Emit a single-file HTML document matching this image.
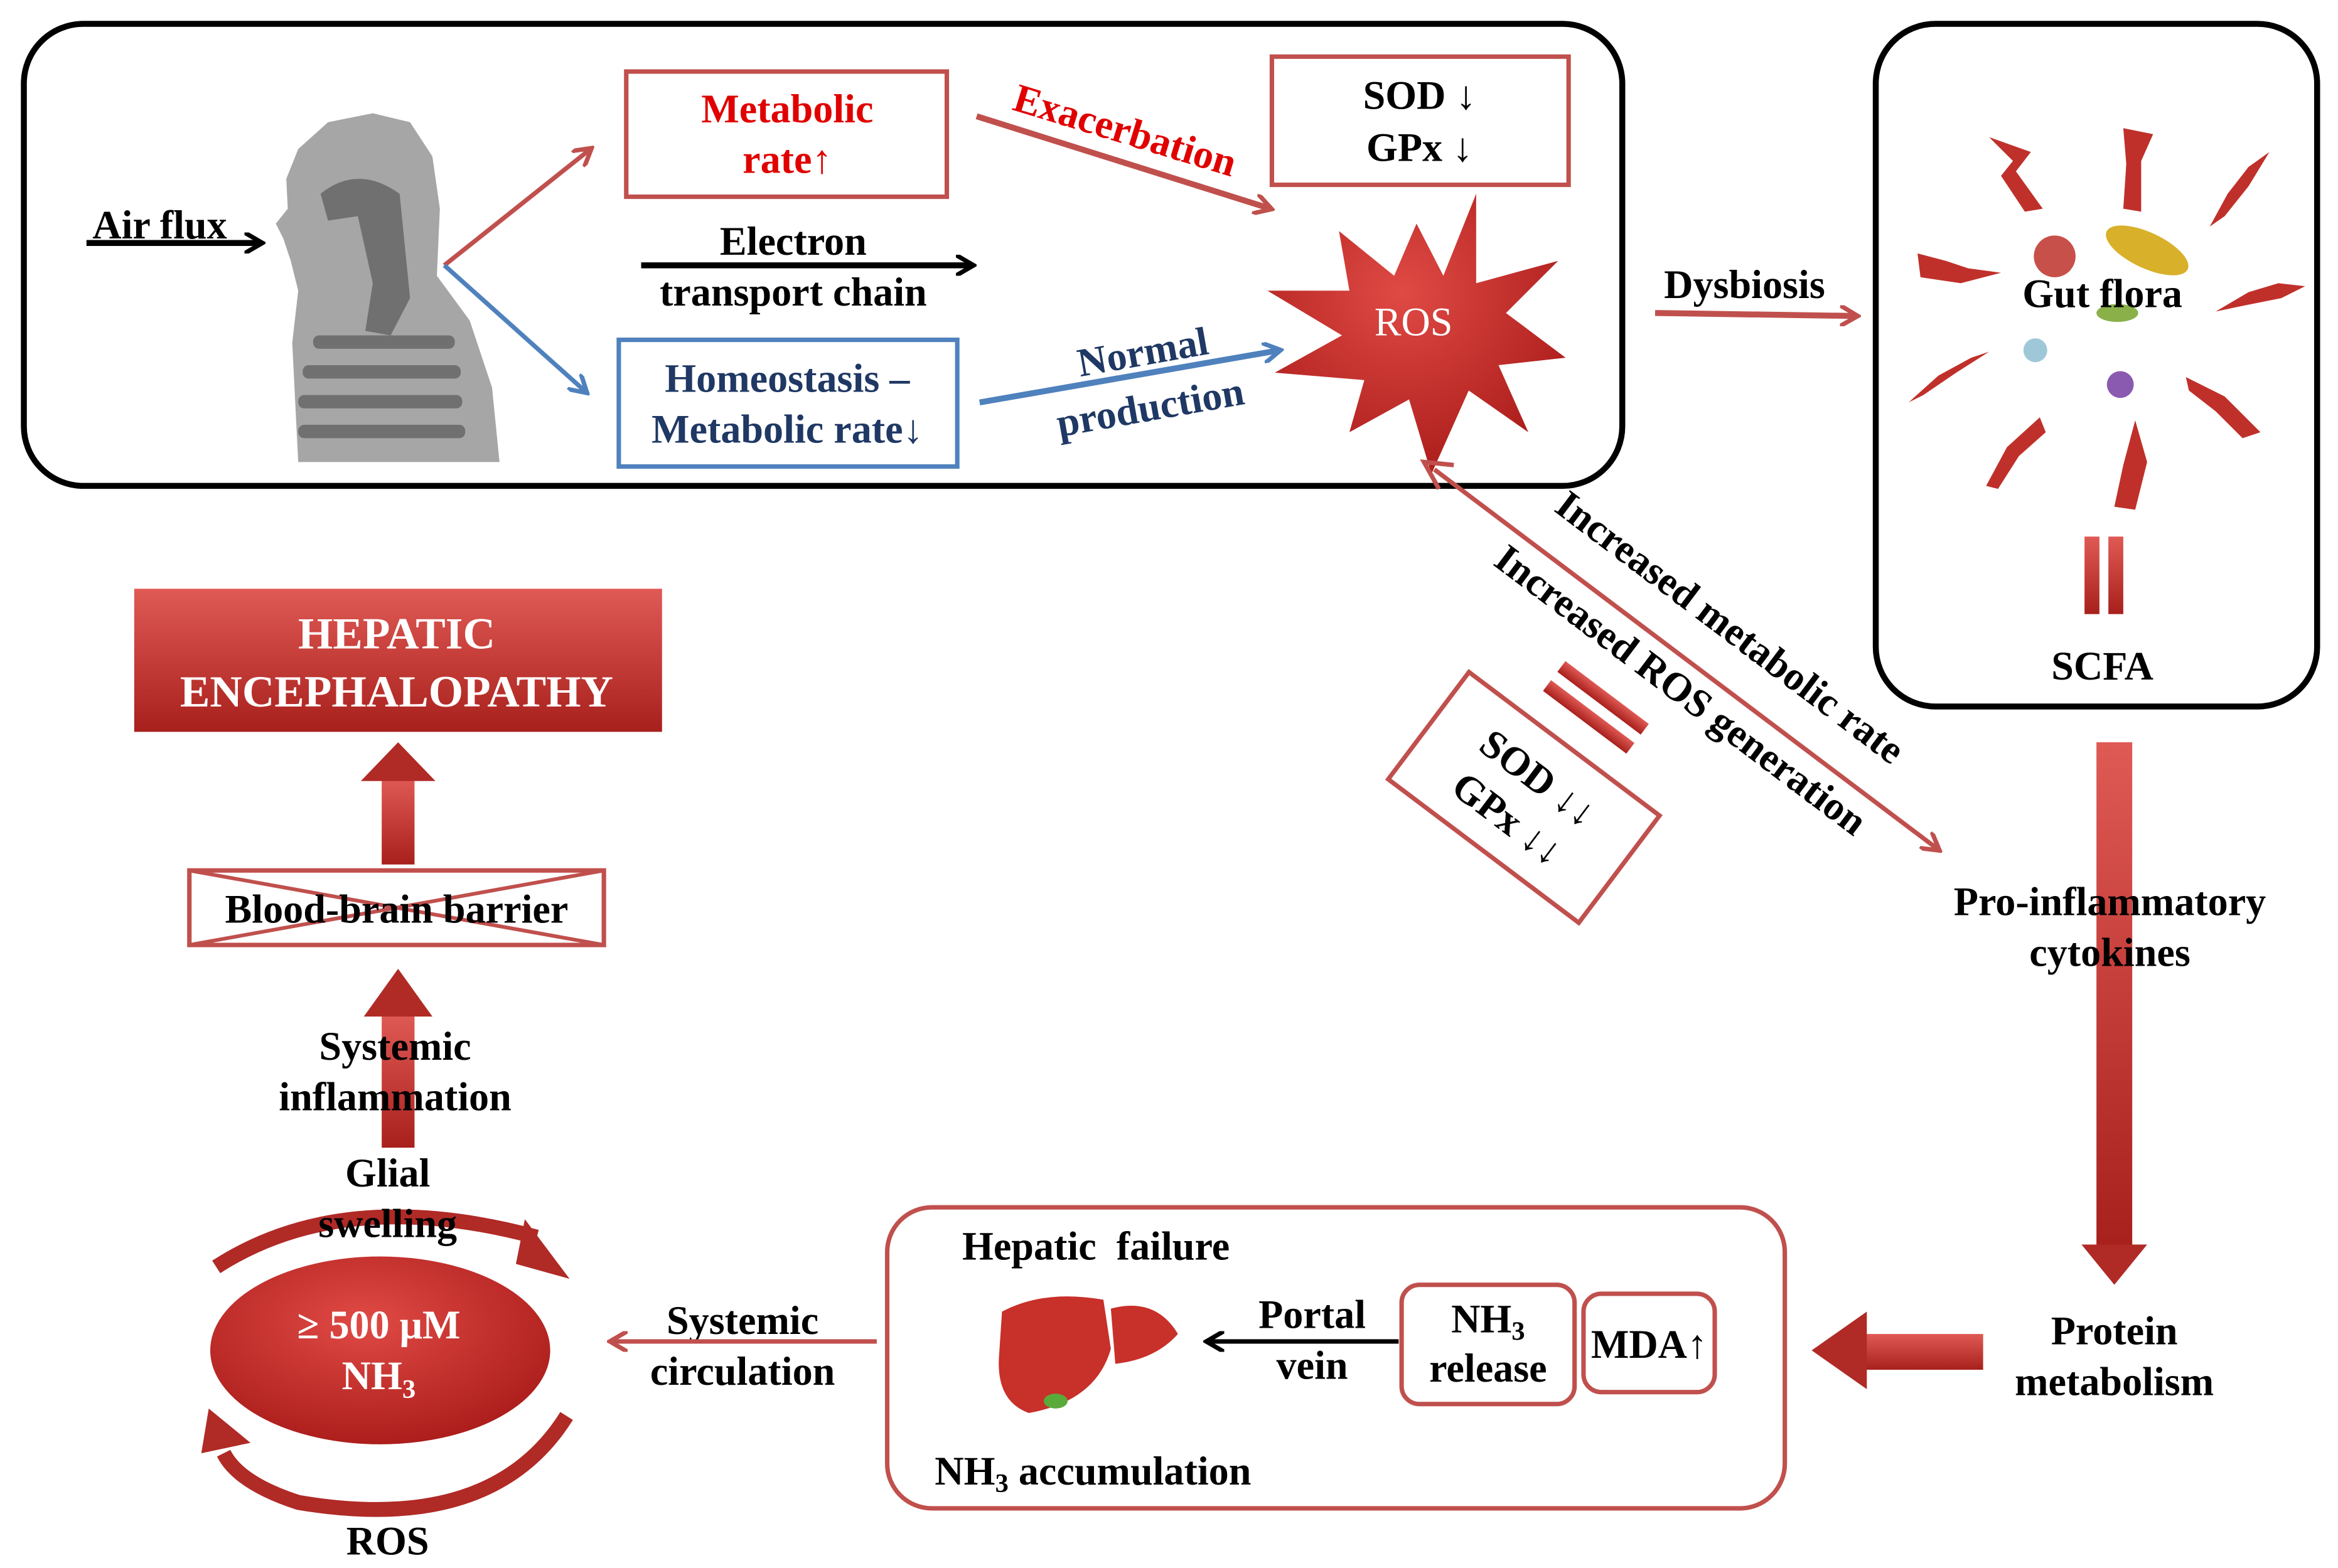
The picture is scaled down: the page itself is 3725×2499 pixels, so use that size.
<!DOCTYPE html>
<html><head><meta charset="utf-8"><style>
html,body{margin:0;padding:0;background:#fff;}
svg{display:block;}
text{font-family:"Liberation Serif",serif;font-weight:bold;}
</style></head><body>
<svg width="3725" height="2499" viewBox="0 0 1568 1052" preserveAspectRatio="none" xmlns="http://www.w3.org/2000/svg">
<defs>
<marker id="ak" markerWidth="14" markerHeight="14" refX="11" refY="7" orient="auto" markerUnits="userSpaceOnUse"><path d="M0,0 L12,7 L0,14" fill="none" stroke="#000" stroke-width="3"/></marker>
<marker id="ab" markerWidth="14" markerHeight="14" refX="11" refY="7" orient="auto" markerUnits="userSpaceOnUse"><path d="M0,0 L12,7 L0,14" fill="none" stroke="#4f81bd" stroke-width="3"/></marker>
<marker id="ar2" markerWidth="14" markerHeight="14" refX="11" refY="7" orient="auto" markerUnits="userSpaceOnUse"><path d="M0,0 L12,7 L0,14" fill="none" stroke="#c0504d" stroke-width="3"/></marker>
<linearGradient id="rg" x1="0" y1="0" x2="0" y2="1"><stop offset="0" stop-color="#e05a55"/><stop offset="1" stop-color="#a8201c"/></linearGradient>
<radialGradient id="eg" cx="0.45" cy="0.35" r="0.7"><stop offset="0" stop-color="#e04a45"/><stop offset="1" stop-color="#a81a18"/></radialGradient>
</defs>

<rect x="16" y="16" width="1072" height="310" rx="40" fill="none" stroke="#000" stroke-width="4"/>
<rect x="1258" y="16" width="296" height="458" rx="40" fill="none" stroke="#000" stroke-width="4"/>

<!-- human silhouette -->
<path d="M200,310 L196,230 L200,195 L195,175 L190,160 L185,150 L193,140 L192,120 L200,100 L220,82 L250,76 L275,82 L290,105 L295,140 L293,185 L315,215 L330,260 L335,310 Z" fill="#a6a6a6"/>
<path d="M215,130 Q240,110 268,130 L275,200 L262,225 L245,222 L250,190 L240,145 L220,148 Z" fill="#707070"/>
<g fill="#707070">
<rect x="210" y="225" width="95" height="9" rx="4"/>
<rect x="203" y="245" width="106" height="9" rx="4"/>
<rect x="200" y="265" width="110" height="9" rx="4"/>
<rect x="200" y="285" width="112" height="9" rx="4"/>
</g>

<text x="62" y="160" font-size="27">Air flux</text>
<line x1="58" y1="163" x2="175" y2="163" stroke="#000" stroke-width="4" marker-end="url(#ak)"/>

<line x1="298" y1="178" x2="396" y2="100" stroke="#c0504d" stroke-width="3" marker-end="url(#ar2)"/>
<line x1="298" y1="178" x2="393" y2="263" stroke="#4f81bd" stroke-width="3" marker-end="url(#ab)"/>

<rect x="420" y="48" width="215" height="84" fill="#fff" stroke="#c0504d" stroke-width="3"/>
<text x="528" y="82" font-size="27" fill="#e00000" text-anchor="middle">Metabolic</text>
<text x="528" y="116" font-size="27" fill="#e00000" text-anchor="middle">rate↑</text>

<text x="532" y="171" font-size="27" text-anchor="middle">Electron</text>
<line x1="430" y1="178" x2="652" y2="178" stroke="#000" stroke-width="4" marker-end="url(#ak)"/>
<text x="532" y="205" font-size="27" text-anchor="middle">transport chain</text>

<rect x="415" y="228" width="227" height="85" fill="#fff" stroke="#4f81bd" stroke-width="3"/>
<text x="528" y="263" font-size="27" fill="#1f3864" text-anchor="middle">Homeostasis –</text>
<text x="528" y="297" font-size="27" fill="#1f3864" text-anchor="middle">Metabolic rate↓</text>

<line x1="655" y1="78" x2="852" y2="140" stroke="#c0504d" stroke-width="4" marker-end="url(#ar2)"/>
<text x="752" y="96" font-size="27" fill="#e00000" text-anchor="middle" transform="rotate(17 752 96)">Exacerbation</text>

<line x1="657" y1="270" x2="858" y2="235" stroke="#4f81bd" stroke-width="4" marker-end="url(#ab)"/>
<text x="768" y="245" font-size="27" fill="#1f3864" text-anchor="middle" transform="rotate(-10 768 245)">Normal</text>
<text x="773" y="282" font-size="27" fill="#1f3864" text-anchor="middle" transform="rotate(-10 773 282)">production</text>

<rect x="853" y="38" width="199" height="86" fill="#fff" stroke="#c0504d" stroke-width="3"/>
<text x="952" y="73" font-size="27" text-anchor="middle">SOD ↓</text>
<text x="952" y="108" font-size="27" text-anchor="middle">GPx ↓</text>

<polygon points="950,150 968,185 990,130 990,190 1045,175 1010,210 1050,240 1005,245 1025,290 985,262 960,318 945,268 905,290 915,255 855,250 900,225 850,195 905,195 898,155 935,185" fill="url(#eg)"/>
<text x="948" y="225" font-size="27" fill="#fff" text-anchor="middle" style="font-weight:normal">ROS</text>

<text x="1170" y="200" font-size="27" text-anchor="middle">Dysbiosis</text>
<line x1="1110" y1="210" x2="1245" y2="212" stroke="#c0504d" stroke-width="4" marker-end="url(#ar2)"/>

<!-- gut flora bolts -->
<g fill="#c0302a">
<polygon points="1334,92 1362,102 1352,115 1370,140 1358,142 1342,118 1350,108"/>
<polygon points="1424,86 1444,90 1436,108 1436,142 1424,140 1426,110"/>
<polygon points="1522,102 1508,125 1492,145 1482,152 1494,130 1508,112"/>
<polygon points="1286,170 1305,175 1320,180 1342,183 1315,190 1288,186"/>
<polygon points="1546,192 1530,200 1505,205 1486,209 1508,196 1528,190"/>
<polygon points="1334,236 1312,250 1290,265 1280,270 1300,252 1322,240"/>
<polygon points="1466,253 1492,266 1516,290 1504,294 1486,276 1468,262"/>
<polygon points="1368,280 1346,300 1332,326 1340,328 1354,306 1372,290"/>
<polygon points="1432,282 1440,310 1432,342 1418,340 1424,312"/>
</g>
<circle cx="1378" cy="172" r="14" fill="#c8504a"/>
<ellipse cx="1440" cy="168" rx="30" ry="12" fill="#d8b02a" transform="rotate(25 1440 168)"/>
<ellipse cx="1420" cy="210" rx="14" ry="6" fill="#8ab04a"/>
<circle cx="1365" cy="235" r="8" fill="#9ec8d8"/>
<circle cx="1422" cy="258" r="9" fill="#8a5ab0"/>
<text x="1410" y="206" font-size="27" text-anchor="middle">Gut flora</text>
<rect x="1398" y="360" width="10" height="52" fill="url(#rg)"/>
<rect x="1414" y="360" width="10" height="52" fill="url(#rg)"/>
<text x="1410" y="456" font-size="27" text-anchor="middle">SCFA</text>

<line x1="962" y1="315" x2="1300" y2="570" stroke="#c0504d" stroke-width="3" marker-end="url(#ar2)"/>
<polyline points="965,328 955,310 975,312" fill="none" stroke="#c0504d" stroke-width="3"/>
<text x="1155" y="428" font-size="27" text-anchor="middle" transform="rotate(37 1155 428)">Increased metabolic rate</text>
<text x="1122" y="470" font-size="27" text-anchor="middle" transform="rotate(37 1122 470)">Increased ROS generation</text>
<g transform="rotate(37 1070 475)">
<rect x="1035" y="462" width="70" height="9" fill="url(#rg)"/>
<rect x="1035" y="478" width="70" height="9" fill="url(#rg)"/>
</g>
<g transform="rotate(37 1022 535)">
<rect x="942" y="490" width="160" height="90" fill="#fff" stroke="#c0504d" stroke-width="3"/>
<text x="1022" y="528" font-size="27" text-anchor="middle">SOD ↓↓</text>
<text x="1022" y="562" font-size="27" text-anchor="middle">GPx ↓↓</text>
</g>

<rect x="1406" y="498" width="24" height="340" fill="url(#rg)"/>
<polygon points="1396,835 1440,835 1418,862" fill="#b02a26"/>
<text x="1415" y="614" font-size="27" text-anchor="middle">Pro-inflammatory</text>
<text x="1415" y="648" font-size="27" text-anchor="middle">cytokines</text>
<text x="1418" y="902" font-size="27" text-anchor="middle">Protein</text>
<text x="1418" y="936" font-size="27" text-anchor="middle">metabolism</text>

<rect x="1250" y="895" width="80" height="24" fill="url(#rg)"/>
<polygon points="1252,880 1252,932 1215,906" fill="#b02a26"/>

<rect x="595" y="810" width="602" height="202" rx="30" fill="none" stroke="#c0504d" stroke-width="3"/>
<text x="735" y="845" font-size="27" text-anchor="middle" xml:space="preserve">Hepatic  failure</text>
<path d="M672,880 Q700,865 740,872 L745,905 Q735,940 690,948 Q668,940 670,910 Z" fill="#c8302a"/>
<path d="M745,878 Q775,870 790,895 Q775,912 748,915 Z" fill="#c8302a"/>
<ellipse cx="708" cy="940" rx="8" ry="5" fill="#5aaa3a"/>
<text x="733" y="996" font-size="27" text-anchor="middle">NH<tspan font-size="18" dy="5">3</tspan><tspan dy="-5"> accumulation</tspan></text>
<text x="880" y="891" font-size="27" text-anchor="middle">Portal</text>
<text x="880" y="925" font-size="27" text-anchor="middle">vein</text>
<line x1="938" y1="900" x2="810" y2="900" stroke="#000" stroke-width="3" marker-end="url(#ak)"/>
<rect x="940" y="862" width="116" height="80" rx="12" fill="#fff" stroke="#c0504d" stroke-width="3"/>
<text x="998" y="894" font-size="27" text-anchor="middle">NH<tspan font-size="18" dy="5">3</tspan></text>
<text x="998" y="927" font-size="27" text-anchor="middle">release</text>
<rect x="1062" y="868" width="88" height="66" rx="12" fill="#fff" stroke="#c0504d" stroke-width="3"/>
<text x="1106" y="911" font-size="27" text-anchor="middle">MDA↑</text>

<text x="498" y="895" font-size="27" text-anchor="middle">Systemic</text>
<text x="498" y="929" font-size="27" text-anchor="middle">circulation</text>
<line x1="588" y1="900" x2="410" y2="900" stroke="#c0504d" stroke-width="3" marker-end="url(#ar2)"/>

<ellipse cx="255" cy="906" rx="115" ry="64" fill="url(#eg)" stroke="#fff" stroke-width="2"/>
<text x="254" y="898" font-size="27" fill="#fff" text-anchor="middle">≥ 500 μM</text>
<text x="254" y="932" font-size="27" fill="#fff" text-anchor="middle">NH<tspan font-size="18" dy="6">3</tspan></text>
<path d="M145,850 Q230,795 360,830" fill="none" stroke="#b02a26" stroke-width="10"/>
<polygon points="352,818 382,858 346,848" fill="#b02a26"/>
<path d="M380,950 Q330,1030 200,1008 Q160,995 150,975" fill="none" stroke="#b02a26" stroke-width="10"/>
<polygon points="135,975 140,945 168,968" fill="#b02a26"/>
<text x="260" y="796" font-size="27" text-anchor="middle">Glial</text>
<text x="260" y="830" font-size="27" text-anchor="middle">swelling</text>
<text x="260" y="1043" font-size="27" text-anchor="middle">ROS</text>

<rect x="256" y="680" width="22" height="90" fill="url(#rg)"/>
<polygon points="244,682 290,682 267,650" fill="#b02a26"/>
<text x="265" y="711" font-size="27" text-anchor="middle">Systemic</text>
<text x="265" y="745" font-size="27" text-anchor="middle">inflammation</text>

<rect x="127" y="584" width="278" height="50" fill="#fff" stroke="#c0504d" stroke-width="3"/>
<line x1="127" y1="584" x2="405" y2="634" stroke="#c0504d" stroke-width="2.5"/>
<line x1="127" y1="634" x2="405" y2="584" stroke="#c0504d" stroke-width="2.5"/>
<text x="266" y="619" font-size="27" text-anchor="middle">Blood-brain barrier</text>

<rect x="256" y="522" width="22" height="58" fill="url(#rg)"/>
<polygon points="242,524 292,524 267,498" fill="#b02a26"/>

<rect x="90" y="395" width="354" height="96" fill="url(#rg)"/>
<text x="266" y="435" font-size="30" fill="#fff" text-anchor="middle">HEPATIC</text>
<text x="266" y="474" font-size="30" fill="#fff" text-anchor="middle">ENCEPHALOPATHY</text>
</svg>
</body></html>
